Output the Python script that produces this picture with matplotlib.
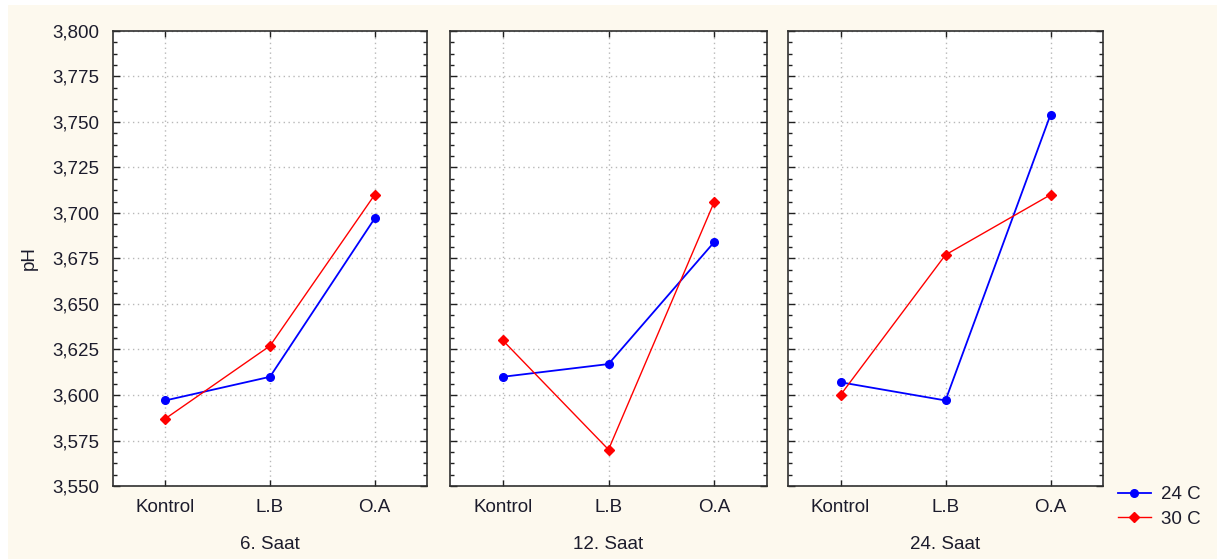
import matplotlib
matplotlib.use("Agg")
import matplotlib.pyplot as plt
import matplotlib.ticker as ticker
from matplotlib.patches import Rectangle

plt.rcParams['font.family'] = ['Liberation Sans', 'DejaVu Sans']

categories = ["Kontrol", "L.B", "O.A"]
panels = ["6. Saat", "12. Saat", "24. Saat"]
ph_24 = [
    [3.597, 3.610, 3.697],
    [3.610, 3.617, 3.684],
    [3.607, 3.597, 3.754],
]
ph_30 = [
    [3.587, 3.627, 3.710],
    [3.630, 3.570, 3.706],
    [3.600, 3.677, 3.710],
]
series_names = ["24 C", "30 C"]

W, H = 1217, 559
fig = plt.figure(figsize=(W / 100, H / 100), dpi=100, facecolor="white")
fig.patches.append(Rectangle((8 / W, 0), 1, 1 - 5 / H, transform=fig.transFigure,
                             facecolor="#fdf9ee", edgecolor="none", zorder=-10))

txt = "#1c1c2c"
fs = 13.5
lefts = [113, 450, 788]
widths = [314, 317, 315]
top, bottom = 31, 486

fmt = ticker.FuncFormatter(lambda v, p: f"{v:.3f}".replace(".", ","))
axes = []
for i in range(3):
    ax = fig.add_axes([lefts[i] / W, 1 - bottom / H, widths[i] / W, (bottom - top) / H])
    ax.set_facecolor("white")
    x = range(len(categories))
    l1, = ax.plot(x, ph_24[i], color="#0000ff", lw=1.3, marker="o", ms=5.5, label=series_names[0])
    l2, = ax.plot(x, ph_30[i], color="#ff0000", lw=1.0, marker="D", ms=5, label=series_names[1])
    ax.set_xlim(-0.5, 2.5)
    ax.set_ylim(3.55, 3.80)
    ax.set_xticks(list(x))
    ax.set_xticklabels(categories)
    ax.yaxis.set_major_locator(ticker.MultipleLocator(0.025))
    ax.yaxis.set_minor_locator(ticker.AutoMinorLocator(4))
    ax.yaxis.set_major_formatter(fmt)
    ax.tick_params(axis="both", which="both", direction="in", top=True, right=True,
                   colors="#202020", labelcolor=txt, labelsize=fs)
    ax.tick_params(axis="y", which="major", length=5, width=1, pad=10)
    ax.tick_params(axis="y", which="minor", length=3, width=1)
    ax.tick_params(axis="x", which="major", length=4, width=1, pad=9)
    if i > 0:
        ax.tick_params(axis="y", labelleft=False)
    ax.grid(True, which="major", color="#b8b8b8", linestyle=(0, (1, 2.5)), lw=1)
    for s in ax.spines.values():
        s.set_color("#303030")
        s.set_linewidth(1.2)
    ax.set_xlabel(panels[i], fontsize=fs, color=txt, labelpad=15)
    axes.append(ax)

axes[0].set_ylabel("pH", fontsize=fs, color=txt, labelpad=10)

fig.legend(handles=[l1, l2], labels=series_names, loc="upper left",
           bbox_to_anchor=(1118 / W, 1 - 486 / H), frameon=False, fontsize=fs,
           handlelength=1.75, handletextpad=0.55, labelspacing=0.4,
           borderpad=0, borderaxespad=0, labelcolor=txt)

fig.savefig("out.png", dpi=100, facecolor=fig.get_facecolor())
